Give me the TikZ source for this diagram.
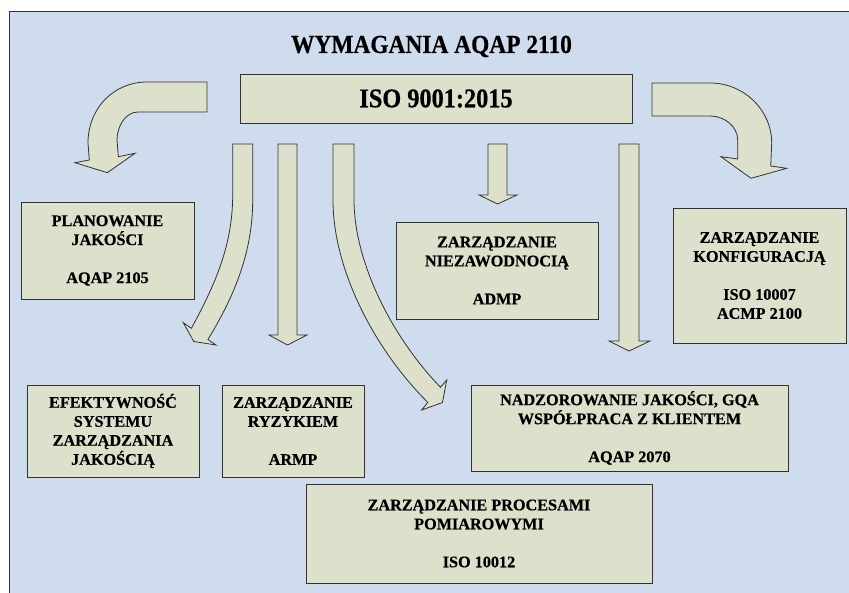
\documentclass[tikz,border=0pt]{standalone}
\usepackage{fontspec}
\setmainfont{Liberation Serif}[BoldFeatures={FakeBold=0.5}]
\newfontfamily\titlefont{Liberation Serif}[FakeStretch=0.9,BoldFeatures={FakeBold=0.5}]
\definecolor{bgblue}{RGB}{207,220,237}
\definecolor{boxfill}{RGB}{221,225,204}
\definecolor{edge}{RGB}{50,50,50}
\tikzset{
  box/.style={draw=edge, fill=boxfill, line width=0.9pt, inner sep=0pt, align=center,
    font=\fontsize{16.2}{19}\selectfont\bfseries},
  blockarrow/.style={draw=edge, fill=boxfill, line width=0.8pt, line join=miter},
}
\begin{document}
\begin{tikzpicture}[x=1pt,y=-1pt]
\useasboundingbox (0,0) rectangle (849,593);
\fill[white] (0,0) rectangle (849,593);
\fill[bgblue] (9,12) rectangle (849,593);
\draw[edge, line width=1pt] (849,12) -- (9,12) -- (9,593);

% title
\node[anchor=base, inner sep=0pt] (title) at (431.5,53)
  {\titlefont\fontsize{26}{30}\selectfont\bfseries WYMAGANIA AQAP 2110};
\node[box, minimum width=392pt, minimum height=49pt, font=\titlefont\fontsize{27}{30}\selectfont\bfseries]
  (iso) at (436,98.5) {ISO 9001:2015};

% bent arrow left
\draw[blockarrow] (207,82) -- (147,82) .. controls (114,82) and (88,108) .. (88,143)
  -- (89.3,160) -- (75,162.7) -- (107.3,172.7) -- (135,153.3) -- (118.3,156.7)
  -- (117,140) .. controls (117,127) and (125,112) .. (138,112) -- (207,112) -- cycle;
% bent arrow right
\draw[blockarrow] (652,83) -- (710,83) .. controls (744,83) and (771.7,110) .. (771.7,143.3)
  -- (770.7,166) -- (786.7,168.3) -- (751,178.3) -- (721,156.7) -- (737.7,159)
  -- (737.7,140) .. controls (737.7,127) and (725,116) .. (710,116) -- (652,116) -- cycle;

% curved arrow A (down-left)
\draw[blockarrow] (232.7,144) -- (232.7,195) .. controls (232.7,245) and (215,285) .. (191.4,328.3)
  -- (183.3,322.7) -- (193.8,341.5) -- (216,345) -- (207.9,339.5)
  .. controls (232,300) and (252.7,255) .. (252.7,200) -- (252.7,144) -- cycle;
% straight arrow B
\draw[blockarrow] (278,144) -- (278,335) -- (269,335) -- (287.5,345) -- (307,335) -- (297,335) -- (297,144) -- cycle;
% curved arrow C (down-right)
\draw[blockarrow] (333,144) -- (333,200) .. controls (333,270) and (375,350) .. (427.8,402.4)
  -- (421.7,410) -- (442.5,402.5) -- (446.7,380) -- (440.5,387.3)
  .. controls (390,335) and (354,260) .. (354,200) -- (354,144) -- cycle;
% straight arrow D
\draw[blockarrow] (488,144) -- (488,195) -- (479,195) -- (497.5,204) -- (517,195) -- (507,195) -- (507,144) -- cycle;
% straight arrow E
\draw[blockarrow] (619,144) -- (619,341) -- (609,341) -- (629,351) -- (650,341) -- (639,341) -- (639,144) -- cycle;

% boxes
\node[box, minimum width=173pt, minimum height=97pt] (plan) at (107.5,250.5)
  {PLANOWANIE\\JAKOŚCI\\[19pt]AQAP 2105};
\node[box, minimum width=173pt, minimum height=135pt] (konf) at (759.5,275.5)
  {ZARZĄDZANIE\\KONFIGURACJĄ\\[19pt]ISO 10007\\ACMP 2100};
\node[box, minimum width=202pt, minimum height=97pt] (admp) at (497,270.5)
  {ZARZĄDZANIE\\NIEZAWODNOCIĄ\\[19pt]ADMP};
\node[box, minimum width=172pt, minimum height=92pt] (efek) at (113,431)
  {EFEKTYWNOŚĆ\\SYSTEMU\\ZARZĄDZANIA\\JAKOŚCIĄ};
\node[box, minimum width=142pt, minimum height=92pt] (ryz) at (293,431)
  {ZARZĄDZANIE\\RYZYKIEM\\[19pt]ARMP};
\node[box, minimum width=317pt, minimum height=86pt] (nadz) at (629.5,428)
  {NADZOROWANIE JAKOŚCI, GQA\\WSPÓŁPRACA Z KLIENTEM\\[19pt]AQAP 2070};
\node[box, minimum width=346pt, minimum height=99pt] (pom) at (479,533.5)
  {ZARZĄDZANIE PROCESAMI\\POMIAROWYMI\\[19pt]ISO 10012};
\end{tikzpicture}
\end{document}
